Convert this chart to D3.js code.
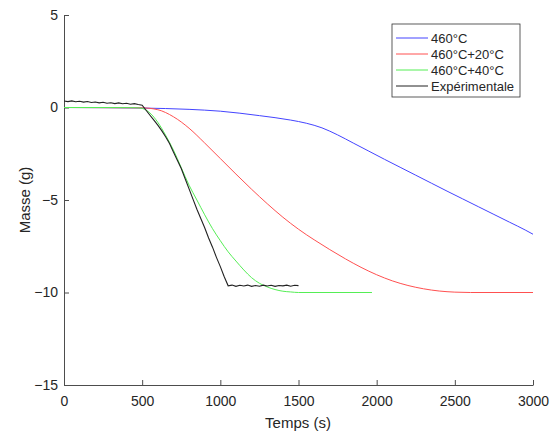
<!DOCTYPE html>
<html><head><meta charset="utf-8">
<script src="https://cdn.jsdelivr.net/npm/d3@7"></script>
<style>body{margin:0;background:#fff}svg{display:block}text{font-family:"Liberation Sans",Arial,sans-serif;fill:#262626}</style>
</head><body><svg id="c" width="556" height="432"></svg>
<script>
const xTicks = [0,500,1000,1500,2000,2500,3000];
const yTicks = [-15,-10,-5,0,5];
const seriesNames = ["460°C","460°C+20°C","460°C+40°C","Expérimentale"];
const seriesColors = ["#4444ff","#ff5050","#55ee55","#222222"];

const blueT = [0,250,500,800,1000,1250,1450,1550,1650,1750,1850,1950,2050,2150,2250,2350,2450,2550,2650,2750,2850,2950,3000];
const blueM = [0,-0.01,-0.03,-0.1,-0.2,-0.44,-0.68,-0.85,-1.1,-1.48,-1.92,-2.36,-2.8,-3.23,-3.66,-4.09,-4.52,-4.94,-5.36,-5.78,-6.2,-6.62,-6.85];

const redT = [0,250,500,600,700,800,900,1000,1100,1200,1300,1400,1500,1600,1700,1800,1900,2000,2100,2200,2300,2400,2500,2600,3000];
const redM = [0,-0.01,-0.02,-0.12,-0.5,-1.12,-1.92,-2.76,-3.6,-4.42,-5.2,-5.93,-6.58,-7.15,-7.68,-8.18,-8.64,-9.04,-9.37,-9.62,-9.8,-9.92,-9.98,-10,-10];

const greenT = [0,250,450,500,550,600,650,700,750,800,850,900,950,1000,1050,1100,1150,1200,1250,1300,1350,1400,1450,1500,1970];
const greenM = [0,0,-0.01,-0.05,-0.3,-0.8,-1.5,-2.3,-3.25,-4.2,-5.0,-5.8,-6.55,-7.2,-7.8,-8.3,-8.78,-9.2,-9.5,-9.7,-9.84,-9.93,-9.97,-10,-10];

const expT = [0,25,50,75,100,125,150,175,200,225,250,275,300,325,350,375,400,425,450,475,500,525,550,575,600,625,650,675,700,725,750,775,800,825,850,875,900,925,950,975,1000,1025,1050,1075,1100,1125,1150,1175,1200,1225,1250,1275,1300,1325,1350,1375,1400,1425,1450,1475,1500];
const expM = [0.35,0.32,0.36,0.31,0.34,0.29,0.32,0.27,0.30,0.25,0.28,0.23,0.26,0.21,0.25,0.20,0.23,0.18,0.21,0.16,0.12,-0.15,-0.42,-0.68,-0.95,-1.25,-1.58,-1.95,-2.4,-2.85,-3.3,-3.85,-4.4,-4.95,-5.5,-6.0,-6.5,-7.05,-7.55,-8.1,-8.6,-9.15,-9.64,-9.6,-9.67,-9.61,-9.65,-9.6,-9.67,-9.62,-9.66,-9.6,-9.65,-9.61,-9.67,-9.62,-9.64,-9.6,-9.66,-9.61,-9.63];

const svg = d3.select("#c");
const x = d3.scaleLinear().domain([0,3000]).range([64,533]);
const y = d3.scaleLinear().domain([-15,5]).range([385,15]);

const axCol = "#4d4d4d";
const gx = svg.append("g").attr("transform","translate(0,385)")
  .call(d3.axisBottom(x).tickValues(xTicks).tickFormat(d3.format("d")).tickSize(-5).tickPadding(11).tickSizeOuter(0));
const gy = svg.append("g").attr("transform","translate(64,0)")
  .call(d3.axisLeft(y).tickValues(yTicks).tickFormat(d3.format("d")).tickSize(-5).tickPadding(5).tickSizeOuter(0));
[gx,gy].forEach(g=>{
  g.select(".domain").attr("stroke",axCol);
  g.selectAll(".tick line").attr("stroke",axCol);
  g.selectAll(".tick text").style("font-size","14px").attr("fill","#262626").style("font-family","'Liberation Sans',Arial,sans-serif");
});
gy.selectAll(".tick text").attr("dx","-1");

const line = d3.line().x(d=>x(d[0])).y(d=>y(d[1]));
const sets = [[blueT,blueM],[redT,redM],[greenT,greenM],[expT,expM]];
const curves = [d3.curveMonotoneX,d3.curveMonotoneX,d3.curveMonotoneX,d3.curveLinear];
sets.forEach((s,i)=>{
  const pts = s[0].map((t,k)=>[t,s[1][k]]);
  svg.append("path").datum(pts).attr("fill","none").attr("stroke",seriesColors[i])
    .attr("stroke-width",i===3?1.1:1).attr("d",line.curve(curves[i]));
});

svg.append("text").attr("x",298).attr("y",428).attr("text-anchor","middle").style("font-size","15px").text("Temps (s)");
svg.append("text").attr("transform","translate(30,200) rotate(-90)").attr("text-anchor","middle").style("font-size","15px").text("Masse (g)");

const lg = svg.append("g");
lg.append("rect").attr("x",392).attr("y",24).attr("width",128).attr("height",73).attr("fill","#fff").attr("stroke","#333").attr("stroke-width",0.8);
seriesNames.forEach((n,i)=>{
  const yy = 38+i*16;
  lg.append("line").attr("x1",396).attr("x2",428).attr("y1",yy).attr("y2",yy).attr("stroke",seriesColors[i]).attr("stroke-width",1);
  lg.append("text").attr("x",431).attr("y",yy+4.5).style("font-size","13px").attr("fill","#000").text(n);
});
</script></body></html>
